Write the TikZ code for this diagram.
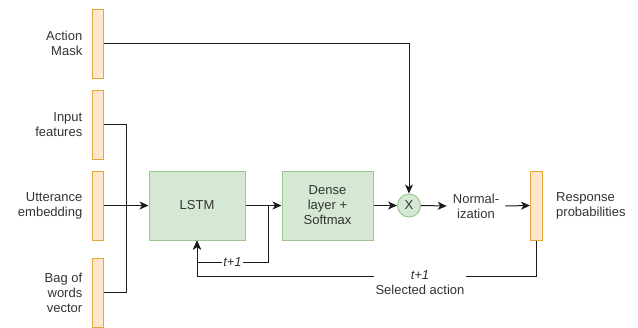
\documentclass[tikz,border=0pt]{standalone}
\usepackage{fontspec}
\setmainfont{Liberation Sans}
\usetikzlibrary{positioning}
\usetikzlibrary{arrows.meta}
\definecolor{barfill}{HTML}{FFE6CC}
\definecolor{barline}{HTML}{E0A93A}
\definecolor{blockfill}{HTML}{D5E8D4}
\definecolor{blockline}{HTML}{9CC78F}
\definecolor{txtgray}{HTML}{333333}
\definecolor{linegray}{HTML}{1A1A1A}
\tikzset{
    vecbar/.style = {rectangle, draw=barline, fill=barfill, line width=1pt, minimum width=11pt, minimum height=69pt, inner sep=0pt},
    block/.style = {rectangle, draw=blockline, fill=blockfill, line width=1pt, minimum width=96pt, minimum height=69pt, align=center, text=txtgray},
    multnode/.style = {circle, draw=blockline, fill=blockfill, line width=1pt, minimum size=23pt, inner sep=0pt, text=txtgray},
    lbl/.style = {align=right, inner sep=0pt, text=txtgray},
    lblr/.style = {align=left, inner sep=0pt, text=txtgray},
    tlbl/.style = {fill=white, inner sep=1pt, text=txtgray, font=\itshape},
    edgen/.style = {-{Stealth[length=9pt,width=8pt,inset=2.5pt]}, line width=1pt, linegray},
    linen/.style = {line width=1pt, linegray},
    every picture/.style={font issue=\fontsize{13}{15}},
    font issue/.style={execute at begin picture={#1\selectfont}}
}
\begin{document}
\begin{tikzpicture}[x=1pt,y=-1pt]
%
\node[vecbar] at (97.5,43.5) (mask) {};
\node[vecbar] at (97.5,124.5) (feat) {};
\node[vecbar] at (97.5,205.5) (utt) {};
\node[vecbar] at (97.5,292.5) (bow) {};
\node[lbl, left=9pt of mask] (masklbl) {Action\\Mask};
\node[lbl, left=9pt of feat] (featlbl) {Input\\features};
\node[lbl, left=9pt of utt] (uttlbl) {Utterance\\embedding};
\node[lbl, left=9pt of bow] (bowlbl) {Bag of\\words\\vector};
%
\node[block] at (197,205.5) (lstm) {LSTM};
\node[block, minimum width=91pt] at (327.5,205.5) (dense) {Dense\\layer +\\Softmax};
\node[multnode] at (409,205.5) (mult) {X};
\node[align=center, inner sep=6pt, text=txtgray] at (476,206) (norm) {Normal-\\ization};
\node[vecbar, minimum width=12pt] at (536.5,205.5) (resp) {};
\node[lblr, right=13pt of resp] (resplbl) {Response\\probabilities};
%
\draw[linen] (feat.east) -- ++(23,0) |- (bow.east);
\draw[edgen] (utt.east) -- (lstm.west);
\draw[edgen] (mask.east) -| (mult.north);
\draw[edgen] (lstm.east) -- (dense.west);
\coordinate (br) at (268,205.5);
\draw[edgen] (br) -- ++(0,57) -| node[tlbl, pos=0.25] {t+1} (lstm.south);
\draw[edgen] (dense.east) -- (mult.west);
\draw[edgen] (mult.east) -- (norm.west);
\draw[edgen] (norm.east) -- (resp.west);
\draw[edgen] (resp.south) -- ++(0,35.5) -| (lstm.south);
\node[fill=white, align=center, inner sep=2pt, text=txtgray] at (420,283) (sel) {\textit{t+1}\\Selected action};

\path[use as bounding box] (0,0) rectangle (638,327);

\end{tikzpicture}
\end{document}
